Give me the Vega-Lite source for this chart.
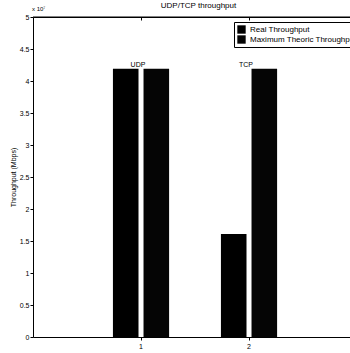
{
  "$schema": "https://vega.github.io/schema/vega-lite/v6.json",
  "autosize": "none",
  "width": 317,
  "height": 320,
  "padding": {"left": 33, "top": 17, "right": 0, "bottom": 16},
  "background": "white",
  "title": {"text": "UDP/TCP throughput", "font": "Liberation Sans", "fontSize": 8, "fontWeight": "normal", "color": "black", "offset": -4, "anchor": "middle", "dx": 7},
  "config": {
    "view": {"stroke": null},
    "axis": {"labelFont": "Liberation Sans", "titleFont": "Liberation Sans", "labelFontSize": 7, "titleFontSize": 7, "labelColor": "black", "titleColor": "black", "domainColor": "black", "tickColor": "black", "grid": false, "titleFontWeight": "normal"},
    "axisY": {"values": [0, 5000000, 10000000, 15000000, 20000000, 25000000, 30000000, 35000000, 40000000, 45000000, 50000000],
              "labelExpr": "format(datum.value / 10000000, '~g')", "labelOverlap": false,
              "titlePadding": 3, "tickSize": 3, "labelPadding": 1}
  },
  "datasets": {
    "bars": [
      {"protocol": "UDP", "group": "1", "series": "Real Throughput", "throughput": 41900000},
      {"protocol": "UDP", "group": "1", "series": "Maximum Theoric Throughput", "throughput": 41900000},
      {"protocol": "TCP", "group": "2", "series": "Real Throughput", "throughput": 16100000},
      {"protocol": "TCP", "group": "2", "series": "Maximum Theoric Throughput", "throughput": 41900000}
    ],
    "labels": [
      {"protocol": "UDP", "group": "1", "throughput": 41900000},
      {"protocol": "TCP", "group": "2", "throughput": 41900000}
    ],
    "exponent": [{"label": "x 10⁷", "throughput": 50000000}]
  },
  "layer": [
    {
      "data": {"name": "bars"},
      "mark": {"type": "bar"},
      "encoding": {
        "x": {"field": "group", "type": "nominal", "sort": ["1", "2"],
              "scale": {"type": "band", "paddingInner": 0.48, "paddingOuter": 0.7076, "align": 0.523},
              "axis": {"orient": "bottom", "labelAngle": 0, "title": null, "tickSize": 3, "labelPadding": 2, "domainWidth": 1}},
        "xOffset": {"field": "series", "type": "nominal", "sort": ["Real Throughput", "Maximum Theoric Throughput"],
                    "scale": {"paddingInner": 0.164, "paddingOuter": 0}},
        "y": {"field": "throughput", "type": "quantitative",
              "scale": {"domain": [0, 50000000], "nice": false},
              "axis": {"title": "Throughput (Mbps)"}},
        "color": {"field": "series", "type": "nominal", "sort": ["Real Throughput", "Maximum Theoric Throughput"],
                  "scale": {"range": ["#000000", "#050505"]},
                  "legend": {"title": null, "orient": "none", "legendX": 201, "legendY": 5,
                             "symbolType": "square", "symbolSize": 70, "symbolStrokeWidth": 0,
                             "labelFont": "Liberation Sans", "labelFontSize": 8, "labelColor": "black",
                             "strokeColor": "black", "fillColor": "white", "padding": 3, "rowPadding": 1, "labelLimit": 200}}
      }
    },
    {
      "data": {"name": "labels"},
      "mark": {"type": "text", "baseline": "bottom", "dy": -1, "dx": -3, "font": "Liberation Sans", "fontSize": 7, "color": "black"},
      "encoding": {
        "x": {"field": "group", "type": "nominal", "sort": ["1", "2"],
              "axis": {"orient": "top", "labels": false, "title": null, "tickSize": -3, "domainWidth": 1}},
        "y": {"field": "throughput", "type": "quantitative", "axis": {"title": "Throughput (Mbps)"}},
        "text": {"field": "protocol"}
      }
    },
    {
      "data": {"name": "exponent"},
      "mark": {"type": "rule", "color": "black", "strokeWidth": 1},
      "encoding": {
        "y": {"field": "throughput", "type": "quantitative", "axis": {"title": "Throughput (Mbps)"}}
      }
    },
    {
      "data": {"name": "exponent"},
      "mark": {"type": "text", "baseline": "bottom", "align": "left", "dy": -5, "dx": -1, "font": "Liberation Sans", "fontSize": 6, "color": "black"},
      "encoding": {
        "x": {"value": 0},
        "y": {"field": "throughput", "type": "quantitative", "axis": {"title": "Throughput (Mbps)"}},
        "text": {"field": "label"}
      }
    }
  ],
  "resolve": {"axis": {"x": "independent"}}
}
